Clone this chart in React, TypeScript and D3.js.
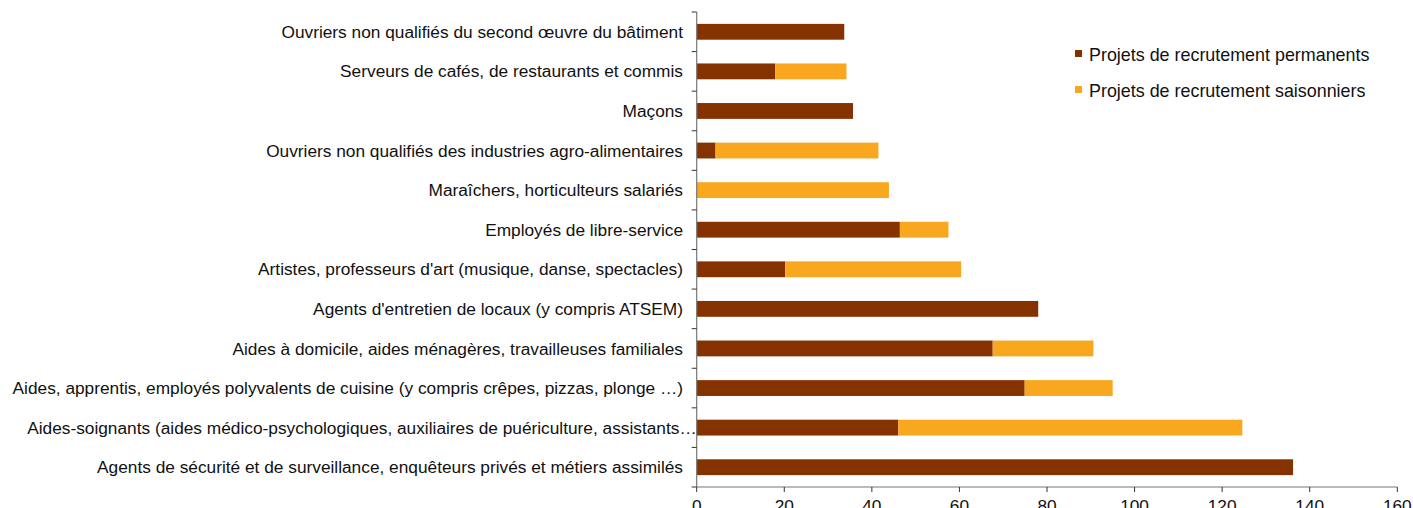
import React from "react";
import * as d3 from "d3";

const categories = [
  "Ouvriers non qualifiés du second œuvre du bâtiment",
  "Serveurs de cafés, de restaurants et commis",
  "Maçons",
  "Ouvriers non qualifiés des industries agro-alimentaires",
  "Maraîchers, horticulteurs salariés",
  "Employés de libre-service",
  "Artistes, professeurs d'art (musique, danse, spectacles)",
  "Agents d'entretien de locaux (y compris ATSEM)",
  "Aides à domicile, aides ménagères, travailleuses familiales",
  "Aides, apprentis, employés polyvalents de cuisine (y compris crêpes, pizzas, plonge …)",
  "Aides-soignants (aides médico-psychologiques, auxiliaires de puériculture, assistants…",
  "Agents de sécurité et de surveillance, enquêteurs privés et métiers assimilés",
];
const permanents = [33.7, 17.9, 35.7, 4.3, 0, 46.4, 20.2, 78.0, 67.6, 74.9, 46.0, 136.2];
const saisonniers = [0, 16.3, 0, 37.2, 43.9, 11.1, 40.2, 0, 23.0, 20.1, 78.6, 0];
const seriesNames = ["Projets de recrutement permanents", "Projets de recrutement saisonniers"];
const colors = ["#843300", "#F9A71F"];
const xTicks = [0, 20, 40, 60, 80, 100, 120, 140, 160];

const W = 1413;
const H = 508;
const FONT = "'Liberation Sans', Arial, sans-serif";

export default function App() {
  const x = d3.scaleLinear().domain([0, 160]).range([696.7, 1397.3]);
  const y = d3
    .scaleBand<string>()
    .domain(categories)
    .range([12, 487])
    .paddingInner(0.6)
    .paddingOuter(0.3);
  const step = y.step();
  const y0 = 12;
  const axisY = 487;

  const rows = categories.map((c, i) => ({ c, p: permanents[i], s: saisonniers[i] }));
  const stack = d3.stack<any>().keys(["p", "s"])(rows);

  return (
    <svg
      width={W}
      height={H}
      style={{ position: "absolute", left: 0, top: 0, background: "#fff" }}
      fontFamily={FONT}
    >
      {stack.map((layer, li) =>
        layer.map((d, i) => {
          const w = x(d[1]) - x(d[0]);
          if (w <= 0) return null;
          return (
            <rect
              key={`${li}-${i}`}
              x={x(d[0])}
              y={y(categories[i])!}
              width={w}
              height={y.bandwidth()}
              fill={colors[li]}
            />
          );
        })
      )}
      {/* y axis */}
      <line x1={x(0)} x2={x(0)} y1={y0} y2={axisY} stroke="#777" strokeWidth={1.2} />
      {d3.range(categories.length + 1).map((i) => (
        <line
          key={i}
          x1={x(0) - 5}
          x2={x(0)}
          y1={y0 + i * step}
          y2={y0 + i * step}
          stroke="#333"
          strokeWidth={1}
        />
      ))}
      {categories.map((c) => (
        <text
          key={c}
          x={c.endsWith("…") ? x(0) : 683}
          y={y(c)! + y.bandwidth() / 2}
          dy="0.35em"
          textAnchor="end"
          fontSize={17.3}
          fill="#111"
        >
          {c}
        </text>
      ))}
      {/* x axis */}
      <line x1={x(0)} x2={x(160)} y1={axisY} y2={axisY} stroke="#777" strokeWidth={1.2} />
      {xTicks.map((t) => (
        <g key={t}>
          <line x1={x(t)} x2={x(t)} y1={axisY} y2={axisY + 5} stroke="#333" />
          <text x={x(t)} y={512} textAnchor="middle" fontSize={17.3} fill="#111">
            {t}
          </text>
        </g>
      ))}
      {/* legend */}
      {seriesNames.map((n, i) => (
        <g key={n}>
          <rect x={1075} y={50 + i * 36} width={7} height={7} fill={colors[i]} />
          <text x={1089} y={61 + i * 36} fontSize={17.9} fill="#111">
            {n}
          </text>
        </g>
      ))}
    </svg>
  );
}
